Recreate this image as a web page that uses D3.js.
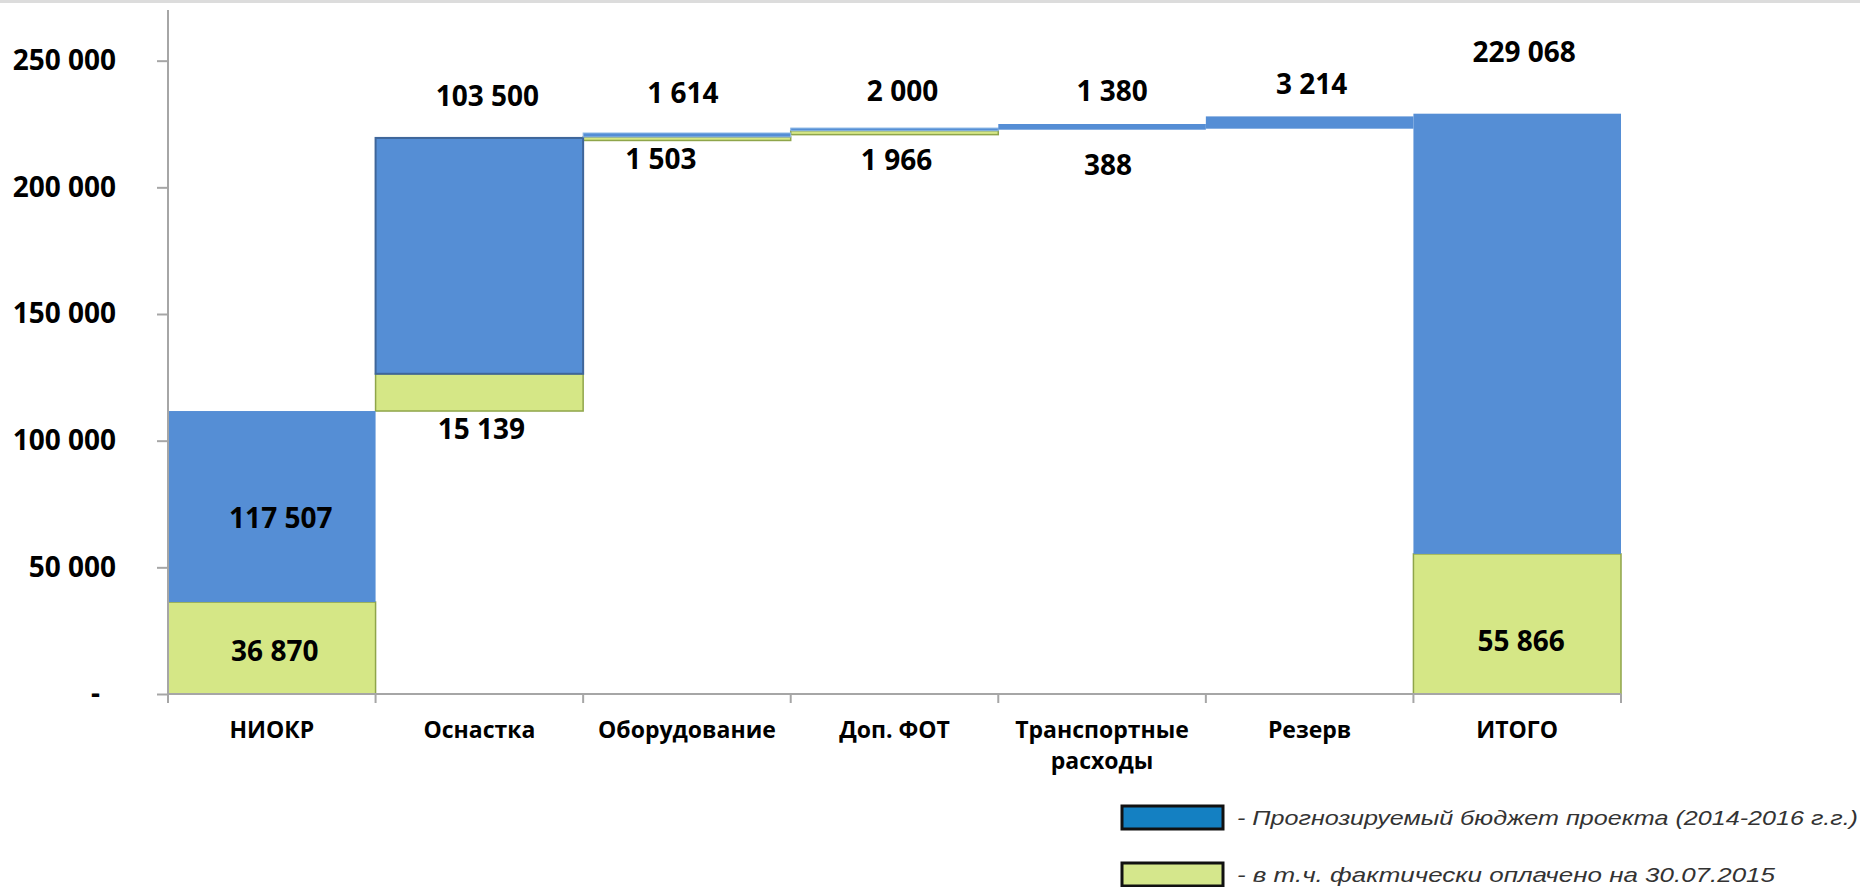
<!DOCTYPE html>
<html>
<head>
<meta charset="utf-8">
<script src="https://cdn.jsdelivr.net/npm/d3@7"></script>
<style>
  body { margin: 0; background: #ffffff; }
  svg { display: block; }
</style>
</head>
<body>
<div id="chart"></div>
<script>
// Categories and labels as printed on the chart
var categories = ["НИОКР", "Оснастка", "Оборудование", "Доп. ФОТ", "Транспортные расходы", "Резерв", "ИТОГО"];
var budgetLabels = ["117 507", "103 500", "1 614", "2 000", "1 380", "3 214", "229 068"];
var paidLabels = ["36 870", "15 139", "1 503", "1 966", "388", "", "55 866"];

// Bar geometry (the drawn bars do not quite match the printed numbers)
var baseValues = [0, 111700, 218500, 220800, 222750, 223150, 0];
var paidValues = [36300, 14700, 1400, 1550, 0, 0, 55300];
var restValues = [75400, 93100, 1550, 1050, 2250, 4850, 173768];

var yTicks = [0, 50000, 100000, 150000, 200000, 250000];

var width = 1860, height = 887;
var margin = { top: 10, left: 168, right: 239, bottom: 193 };
var plotW = width - margin.left - margin.right;
var plotH = height - margin.top - margin.bottom;

var svg = d3.select("#chart")
  .append("svg")
  .attr("width", width)
  .attr("height", height);

// thin gray strip on top of the picture
svg.append("rect")
  .attr("x", 0).attr("y", 0)
  .attr("width", width).attr("height", 3)
  .attr("fill", "#dcdcdc");

var g = svg.append("g")
  .attr("transform", "translate(" + margin.left + "," + margin.top + ")");

var x = d3.scaleBand()
  .domain(categories)
  .range([0, plotW])
  .padding(0);

var y = d3.scaleLinear()
  .domain([0, 270000])
  .range([plotH, 0]);

var blue = "#558ed5";
var green = "#d5e786";

// paid part (bottom of each bar)
g.selectAll(".paid")
  .data(categories)
  .enter().append("rect")
  .attr("class", "paid")
  .attr("x", function(d) { return x(d); })
  .attr("width", x.bandwidth())
  .attr("y", function(d, i) { return y(baseValues[i] + paidValues[i]); })
  .attr("height", function(d, i) { return y(baseValues[i]) - y(baseValues[i] + paidValues[i]); })
  .attr("fill", green)
  .style("stroke", function(d, i) { return paidValues[i] > 0 ? "#8fa54a" : "none"; })
  .style("stroke-width", 1.5);

// remaining budget (above the paid part)
g.selectAll(".rest")
  .data(categories)
  .enter().append("rect")
  .attr("class", "rest")
  .attr("x", function(d) { return x(d); })
  .attr("width", x.bandwidth())
  .attr("y", function(d, i) { return y(baseValues[i] + paidValues[i] + restValues[i]); })
  .attr("height", function(d, i) {
    return y(baseValues[i] + paidValues[i]) - y(baseValues[i] + paidValues[i] + restValues[i]);
  })
  .attr("fill", blue)
  .style("stroke", function(d, i) { return i === 1 ? "#3f669a" : (i === 2 || i === 3 ? "#8db8e6" : "none"); })
  .style("stroke-width", function(d, i) { return i === 1 ? 2 : 1; });

// Y axis
var yAxis = d3.axisLeft(y)
  .tickValues(yTicks)
  .tickSize(11)
  .tickPadding(41)
  .tickFormat(function(v) { return v === 0 ? "-" : d3.format(",")(v).replace(/,/g, " "); });

var yg = g.append("g").attr("class", "y-axis").call(yAxis);
yg.select(".domain").attr("d", "M0," + plotH + "V0").style("stroke", "#a6a6a6").style("stroke-width", 2);
yg.selectAll(".tick line").style("stroke", "#a6a6a6").style("stroke-width", 2);
yg.selectAll(".tick text")
  .style("font-family", "'Open Sans', sans-serif")
  .style("font-weight", "bold")
  .style("font-size", "28px")
  .style("fill", "#000")
  .attr("dx", function(v) { return v === 0 ? "-16px" : 0; });

// X axis line and boundary ticks
g.append("line")
  .attr("x1", 0).attr("x2", plotW)
  .attr("y1", plotH).attr("y2", plotH)
  .style("stroke", "#a6a6a6").style("stroke-width", 2);

var bounds = categories.map(function(d) { return x(d); }).concat([x(categories[categories.length - 1]) + x.bandwidth()]);
g.selectAll(".xtick")
  .data(bounds)
  .enter().append("line")
  .attr("x1", function(d) { return d; }).attr("x2", function(d) { return d; })
  .attr("y1", plotH).attr("y2", plotH + 9)
  .style("stroke", "#a6a6a6").style("stroke-width", 2);

// Category labels
var catText = g.selectAll(".cat")
  .data(categories)
  .enter().append("text")
  .attr("text-anchor", "middle")
  .style("font-family", "'Open Sans', sans-serif")
  .style("font-weight", "bold")
  .style("font-size", "23px")
  .style("fill", "#000");

catText.each(function(d) {
  var words = d === "Транспортные расходы" ? ["Транспортные", "расходы"] : [d];
  var t = d3.select(this);
  words.forEach(function(w, k) {
    t.append("tspan")
      .attr("x", x(d) + x.bandwidth() / 2)
      .attr("y", plotH + 44 + k * 31)
      .text(w);
  });
});

// Value labels: centre positions so they sit where the original puts them
var budgetLabelY = [517, 95, 92, 90, 90, 83, 51];
var budgetLabelDx = [9, 8, -4, 8, 10, 2, 7];
var paidLabelY = [650, 428, 158, 159, 164, 0, 640];
var paidLabelDx = [3, 2, -26, 2, 6, 0, 4];

var labelStyle = function(sel) {
  sel.attr("text-anchor", "middle")
    .attr("dominant-baseline", "central")
    .style("font-family", "'Open Sans', sans-serif")
    .style("font-weight", "bold")
    .style("font-size", "28px")
    .style("fill", "#000");
};

g.selectAll(".blabel")
  .data(categories)
  .enter().append("text")
  .attr("x", function(d, i) { return x(d) + x.bandwidth() / 2 + budgetLabelDx[i]; })
  .attr("y", function(d, i) { return budgetLabelY[i] - margin.top; })
  .text(function(d, i) { return budgetLabels[i]; })
  .call(labelStyle);

g.selectAll(".plabel")
  .data(categories)
  .enter().append("text")
  .attr("x", function(d, i) { return x(d) + x.bandwidth() / 2 + paidLabelDx[i]; })
  .attr("y", function(d, i) { return paidLabelY[i] - margin.top; })
  .text(function(d, i) { return paidLabels[i]; })
  .call(labelStyle);

// Legend
var legendItems = ["- Прогнозируемый бюджет проекта (2014-2016 г.г.)", "- в т.ч. фактически оплачено на 30.07.2015"];
var legendColors = ["#1480c2", "#d5e78c"];
var legendWidths = [621, 538];

var legend = svg.append("g").attr("transform", "translate(1122,806)");
legend.selectAll("rect")
  .data(legendItems)
  .enter().append("rect")
  .attr("x", 0)
  .attr("y", function(d, i) { return i * 57; })
  .attr("width", 101)
  .attr("height", 23)
  .attr("fill", function(d, i) { return legendColors[i]; })
  .style("stroke", "#111")
  .style("stroke-width", 3);

legend.selectAll("text")
  .data(legendItems)
  .enter().append("text")
  .attr("x", 115)
  .attr("y", function(d, i) { return i * 57 + 19; })
  .attr("textLength", function(d, i) { return legendWidths[i]; })
  .attr("lengthAdjust", "spacingAndGlyphs")
  .style("font-family", "'Liberation Sans', Arial, sans-serif")
  .style("font-style", "italic")
  .style("font-size", "21px")
  .style("fill", "#333")
  .text(function(d) { return d; });
</script>
</body>
</html>
